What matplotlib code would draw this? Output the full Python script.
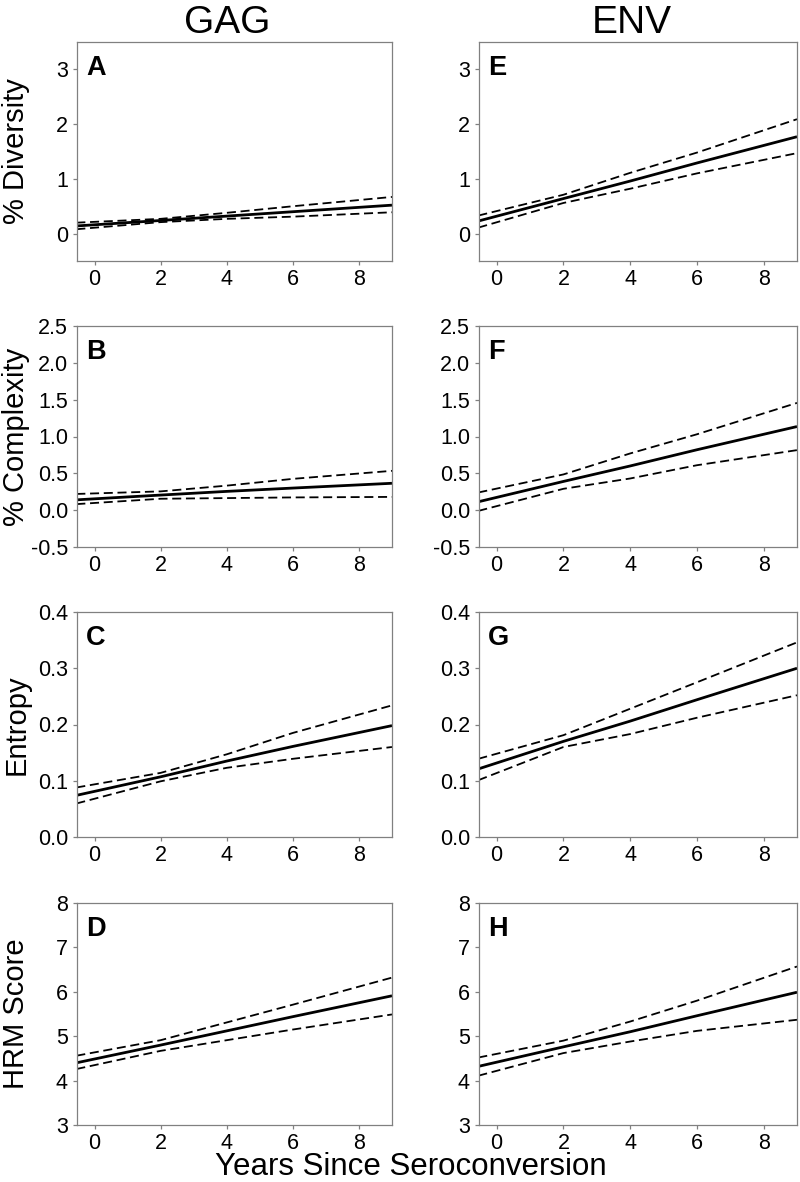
import matplotlib
matplotlib.use("Agg")
import matplotlib.pyplot as plt

plt.rcParams['font.family'] = ['Liberation Sans', 'DejaVu Sans']

years = [-0.55, 2, 4, 6, 9]

# GAG column
gag_div_mean = [0.14, 0.24, 0.32, 0.40, 0.52]
gag_div_up = [0.20, 0.27, 0.38, 0.50, 0.67]
gag_div_lo = [0.08, 0.21, 0.27, 0.31, 0.39]

gag_cpx_mean = [0.14, 0.205, 0.255, 0.30, 0.365]
gag_cpx_up = [0.22, 0.255, 0.333, 0.425, 0.534]
gag_cpx_lo = [0.082, 0.155, 0.164, 0.173, 0.18]

gag_ent_mean = [0.074, 0.107, 0.135, 0.161, 0.198]
gag_ent_up = [0.088, 0.114, 0.147, 0.185, 0.234]
gag_ent_lo = [0.0595, 0.099, 0.123, 0.139, 0.160]

gag_hrm_mean = [4.40, 4.80, 5.12, 5.44, 5.91]
gag_hrm_up = [4.56, 4.91, 5.31, 5.71, 6.32]
gag_hrm_lo = [4.26, 4.67, 4.91, 5.15, 5.49]

# ENV column
env_div_mean = [0.23, 0.64, 0.96, 1.29, 1.77]
env_div_up = [0.33, 0.71, 1.11, 1.48, 2.09]
env_div_lo = [0.11, 0.56, 0.82, 1.10, 1.47]

env_cpx_mean = [0.114, 0.39, 0.60, 0.82, 1.135]
env_cpx_up = [0.24, 0.485, 0.77, 1.03, 1.456]
env_cpx_lo = [-0.01, 0.29, 0.43, 0.61, 0.815]

env_ent_mean = [0.121, 0.170, 0.206, 0.244, 0.300]
env_ent_up = [0.139, 0.181, 0.228, 0.275, 0.346]
env_ent_lo = [0.101, 0.160, 0.183, 0.212, 0.252]

env_hrm_mean = [4.32, 4.76, 5.10, 5.46, 5.99]
env_hrm_up = [4.52, 4.90, 5.33, 5.80, 6.57]
env_hrm_lo = [4.11, 4.62, 4.88, 5.12, 5.37]

col_titles = ["GAG", "ENV"]
row_labels = ["% Diversity", "% Complexity", "Entropy", "HRM Score"]
panel_letters = [["A", "B", "C", "D"], ["E", "F", "G", "H"]]
y_limits = [(-0.5, 3.5), (-0.5, 2.5), (0.0, 0.4), (3, 8)]
y_ticks = [[0, 1, 2, 3], [-0.5, 0.0, 0.5, 1.0, 1.5, 2.0, 2.5],
           [0.0, 0.1, 0.2, 0.3, 0.4], [3, 4, 5, 6, 7, 8]]
y_ticklabels = [["0", "1", "2", "3"],
                ["-0.5", "0.0", "0.5", "1.0", "1.5", "2.0", "2.5"],
                ["0.0", "0.1", "0.2", "0.3", "0.4"],
                ["3", "4", "5", "6", "7", "8"]]
x_ticks = [0, 2, 4, 6, 8]
x_label = "Years Since Seroconversion"

data = [
    [(gag_div_mean, gag_div_up, gag_div_lo), (gag_cpx_mean, gag_cpx_up, gag_cpx_lo),
     (gag_ent_mean, gag_ent_up, gag_ent_lo), (gag_hrm_mean, gag_hrm_up, gag_hrm_lo)],
    [(env_div_mean, env_div_up, env_div_lo), (env_cpx_mean, env_cpx_up, env_cpx_lo),
     (env_ent_mean, env_ent_up, env_ent_lo), (env_hrm_mean, env_hrm_up, env_hrm_lo)],
]

W, H = 800, 1182
fig = plt.figure(figsize=(W / 100, H / 100), dpi=100)

col_x = [(77, 392), (479, 797)]
row_y = [(42, 261), (326, 547), (612, 837), (903, 1125)]

spine_col = "#808080"

for c in range(2):
    x0, x1 = col_x[c]
    for r in range(4):
        y0, y1 = row_y[r]
        ax = fig.add_axes([x0 / W, 1 - y1 / H, (x1 - x0) / W, (y1 - y0) / H])
        mean, up, lo = data[c][r]
        ax.plot(years, mean, color="black", lw=2.0, solid_capstyle="butt")
        ax.plot(years, up, color="black", lw=1.3, dashes=(5, 2.6))
        ax.plot(years, lo, color="black", lw=1.3, dashes=(5, 2.6))
        ax.set_xlim(-0.53, 9.0)
        ax.set_ylim(*y_limits[r])
        ax.set_yticks(y_ticks[r])
        ax.set_yticklabels(y_ticklabels[r])
        ax.set_xticks(x_ticks)
        ax.set_xticklabels([str(t) for t in x_ticks])
        for s in ax.spines.values():
            s.set_color(spine_col)
            s.set_linewidth(0.9)
        ax.tick_params(axis="both", direction="out", length=3, width=0.9,
                       color=spine_col, labelsize=15.5, labelcolor="black")
        ax.tick_params(axis="x", pad=3)
        ax.tick_params(axis="y", pad=3.5)
        ax.text(9 / (x1 - x0), 1 - 13 / (y1 - y0), panel_letters[c][r],
                transform=ax.transAxes, fontsize=19.5, fontweight="bold",
                ha="left", va="top")

# row labels
for r in range(4):
    y0, y1 = row_y[r]
    fig.text(24.5 / W, 1 - (y0 + y1) / 2 / H, row_labels[r], rotation=90,
             rotation_mode="anchor", ha="center", va="baseline", fontsize=21)

# column titles
fig.text(227 / W, 1 - 33 / H, col_titles[0], ha="center", va="baseline", fontsize=28)
fig.text(632 / W, 1 - 33 / H, col_titles[1], ha="center", va="baseline", fontsize=28)

# x label
fig.text(411 / W, 1 - 1175 / H, x_label, ha="center", va="baseline", fontsize=22.5)

fig.savefig("out.png", dpi=100)
